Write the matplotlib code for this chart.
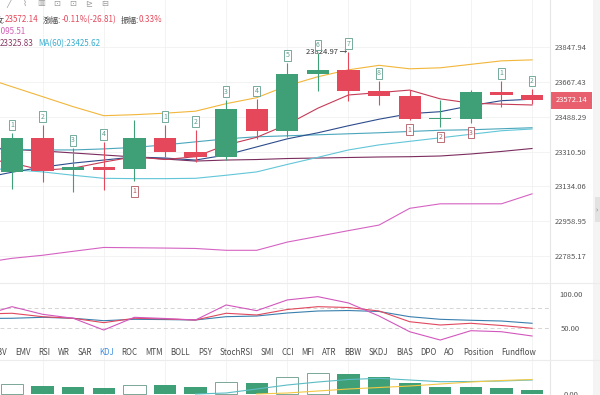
import matplotlib
matplotlib.use('Agg')
import matplotlib.pyplot as plt
import matplotlib.ticker as mticker
import matplotlib.transforms as mtrans
from matplotlib.patches import Rectangle
import numpy as np

plt.rcParams['font.family'] = ['Noto Sans CJK SC', 'DejaVu Sans']

W, H = 600, 395

# ---- candles (18 visible bars) ----
opens  = [23206.6, 23381.9, 23215.4, 23229.3, 23219.0, 23378.8, 23309.7, 23283.9, 23529.9,
          23412.9, 23708.7, 23727.3, 23622.6, 23593.3, 23476.8, 23476.8, 23615.9, 23598.95]
highs  = [23404.6, 23447.4, 23327.2, 23358.2, 23473.2, 23447.4, 23421.6, 23576.2, 23579.8,
          23765.4, 23818.6, 23824.97, 23670.6, 23627.8, 23576.2, 23627.8, 23670.6, 23631.0]
lows   = [23122.4, 23155.1, 23105.2, 23113.8, 23158.7, 23283.9, 23258.2, 23266.9, 23373.7,
          23387.1, 23619.0, 23567.5, 23546.9, 23473.2, 23435.5, 23458.0, 23536.6, 23553.0]
closes = [23381.9, 23211.8, 23229.3, 23217.0, 23378.8, 23309.7, 23283.9, 23529.9, 23412.9,
          23708.7, 23727.3, 23622.6, 23593.3, 23476.8, 23481.9, 23615.9, 23598.95, 23572.14]

# ---- price-panel lines (first value = bar before the first visible candle) ----
line_orange = [23694.9, 23643.3, 23591.8, 23540.2, 23493.8, 23499.0, 23506.7, 23517.0, 23555.7, 23586.6,
               23648.5, 23694.9, 23730.9, 23754.1, 23736.1, 23741.2, 23759.3, 23777.3, 23782.5]
ma5   = [23277.3, 23251.5, 23215.4, 23225.7, 23256.7, 23284.0, 23269.6, 23284.0, 23343.8, 23383.0,
         23449.0, 23532.5, 23600.5, 23612.9, 23625.8, 23580.4, 23558.2, 23553.1, 23548.9]
ma10  = [23174.2, 23205.1, 23230.9, 23251.5, 23267.0, 23282.5, 23277.3, 23267.0, 23292.8, 23334.0,
         23375.2, 23406.2, 23442.3, 23475.8, 23504.1, 23514.4, 23545.3, 23571.1, 23578.8]
ma20  = [23323.7, 23322.2, 23318.5, 23318.5, 23323.7, 23331.4, 23344.3, 23359.8, 23375.2, 23385.6,
         23390.7, 23395.9, 23401.0, 23406.2, 23412.9, 23419.1, 23421.6, 23426.8, 23432.0]
ma60  = [23225.7, 23218.0, 23206.7, 23189.7, 23174.2, 23172.6, 23172.6, 23174.2, 23189.7, 23206.7,
         23244.8, 23280.9, 23318.5, 23344.3, 23362.4, 23380.4, 23398.5, 23416.5, 23425.62]
ma30  = [23334.0, 23321.1, 23313.4, 23303.1, 23292.8, 23282.5, 23272.1, 23261.8, 23267.0, 23269.6,
         23274.7, 23277.3, 23279.9, 23282.5, 23284.0, 23287.6, 23297.9, 23310.8, 23325.83]
ma120 = [22748.8, 22772.1, 22787.3, 22807.1, 22826.3, 22824.8, 22823.3, 22821.2, 22812.1, 22812.1,
         22853.2, 22881.6, 22910.5, 22938.4, 23022.5, 23045.3, 23045.3, 23045.3, 23095.51]

price_ticks = [23847.94, 23667.43, 23488.29, 23310.50, 23134.06, 22958.95, 22785.17]
last_price = 23572.14

# sequence counters
td_up_idx = [0, 1, 2, 3, 5, 6, 7, 8, 9, 10, 11, 12, 16, 17]
td_up_num = ['1', '2', '3', '4', '1', '2', '3', '4', '5', '6', '7', '8', '1', '2']
td_dn_idx = [4, 13, 14, 15]
td_dn_num = ['1', '1', '2', '3']

# ---- KDJ ----
kdj_k = [70.8, 71.9, 66.9, 64.6, 58.2, 64.6, 63.6, 62.1, 71.9, 69.4,
         77.4, 81.5, 80.3, 75.2, 59.6, 54.8, 57.3, 54.1, 50.0]
kdj_d = [64.3, 64.6, 66.0, 64.6, 61.1, 63.1, 62.7, 62.1, 66.9, 67.9,
         72.3, 75.2, 75.9, 74.5, 66.9, 63.1, 61.7, 60.6, 57.3]
kdj_j = [67.9, 81.5, 70.4, 64.6, 47.5, 66.0, 64.3, 62.1, 84.0, 75.7,
         91.3, 96.1, 86.9, 67.9, 45.0, 32.9, 46.5, 45.0, 38.8]

tabs = ['OBV', 'EMV', 'RSI', 'WR', 'SAR', 'KDJ', 'ROC', 'MTM', 'BOLL', 'PSY', 'StochRSI',
        'SMI', 'CCI', 'MFI', 'ATR', 'BBW', 'SKDJ', 'BIAS', 'DPO', 'AO', 'Position', 'Fundflow']

# ---- volume ----
volume = [97, 80, 67, 63, 87, 90, 73, 123, 113, 173, 213, 197, 167, 107, 67, 67, 63, 40]
vol_hollow = [1, 0, 0, 0, 1, 0, 0, 1, 0, 1, 1, 0, 0, 0, 0, 0, 0, 0]
vol_ma_a = [np.nan] * 6 + [0, 10, 50, 90, 120, 145, 157, 140, 123, 125, 130, 140]
vol_ma_b = [np.nan] * 8 + [0, 10, 30, 50, 65, 80, 100, 120, 135, 145]

GREEN = '#3fa077'
RED = '#e5485b'
GRID = '#f1f1f1'
LABEL = '#555555'

fig = plt.figure(figsize=(W / 100, H / 100), dpi=100)
fig.patch.set_facecolor('white')


def fbox(x0, y0, x1, y1):
    # pixel box (top-left origin) -> figure fraction rect
    return [x0 / W, 1 - y1 / H, (x1 - x0) / W, (y1 - y0) / H]


ax = fig.add_axes(fbox(0, 0, 550, 283))
ax2 = fig.add_axes(fbox(0, 283, 550, 360))
ax3 = fig.add_axes(fbox(0, 360, 550, 395))

idx = np.arange(len(closes))
xl = np.arange(-1, len(closes))
xlim = (-0.392, 17.587)

for a in (ax, ax2, ax3):
    a.set_xlim(*xlim)
    for s in a.spines.values():
        s.set_visible(False)
    a.set_xticks([])
    a.set_facecolor('none')
    for gx in idx[1::2]:
        a.axvline(gx, color=GRID, lw=0.6, zorder=0)
    a.tick_params(axis='y', left=False, labelleft=False, right=True, labelright=True,
                  length=0, pad=15, labelsize=5.5, labelcolor=LABEL)

# ---- price panel ----
ax.set_yscale('log')
ax.set_ylim(22649.5, 24096.0)
ax.yaxis.set_major_locator(mticker.FixedLocator(price_ticks))
ax.yaxis.set_minor_locator(mticker.NullLocator())
ax.yaxis.set_major_formatter(mticker.FuncFormatter(lambda v, p: f'{v:.2f}'))
for t in ax.get_yticklabels():
    t.set_horizontalalignment('center')
for p in price_ticks:
    ax.axhline(p, color=GRID, lw=0.6, zorder=0)

ax.plot(xl, line_orange, color='#f2b63a', lw=0.8, zorder=2)
ax.plot(xl, ma120, color='#d563c3', lw=0.8, zorder=2)
ax.plot(xl, ma30, color='#7b2d5e', lw=0.8, zorder=2)
ax.plot(xl, ma60, color='#62c6d8', lw=0.8, zorder=2)
ax.plot(xl, ma20, color='#4aa6bc', lw=0.8, zorder=2)
ax.plot(xl, ma10, color='#2d4c8c', lw=0.8, zorder=2)
ax.plot(xl, ma5, color='#c63b56', lw=0.8, zorder=2)

for i in idx:
    col = GREEN if closes[i] >= opens[i] else RED
    ax.vlines(i, lows[i], highs[i], color=col, lw=0.8, zorder=3)
    lo, hi = min(opens[i], closes[i]), max(opens[i], closes[i])
    ax.bar(i, max(hi - lo, 4), bottom=lo, width=0.73, color=col, zorder=4)

UPC = '#5e9e8e'
DNC = '#b0575e'
for i, n in zip(td_up_idx, td_up_num):
    ax.annotate(n, xy=(i, highs[i]), xytext=(0, 8), textcoords='offset pixels',
                ha='center', va='center', fontsize=5, color=UPC, zorder=6,
                bbox=dict(boxstyle='square,pad=0.2', fc='white', ec=UPC, lw=0.6))
for i, n in zip(td_dn_idx, td_dn_num):
    ax.annotate(n, xy=(i, lows[i]), xytext=(0, -10), textcoords='offset pixels',
                ha='center', va='center', fontsize=5, color=DNC, zorder=6,
                bbox=dict(boxstyle='square,pad=0.2', fc='white', ec=DNC, lw=0.6))

imax = int(np.argmax(highs))
ax.annotate(f'{highs[imax]:.2f} →', xy=(imax, highs[imax]), xytext=(-1, 0),
            textcoords='offset pixels', ha='right', va='center', fontsize=5.5,
            color='#333333', zorder=5)

tr = mtrans.blended_transform_factory(ax.transAxes, ax.transData)
ax.text(1 + 21.5 / 550, last_price, f'{last_price:.2f}', transform=tr, ha='center',
        va='center', fontsize=5.5, color='white', clip_on=False, zorder=7,
        bbox=dict(boxstyle='square,pad=0.55', fc='#e8606e', ec='none'))

# ---- KDJ panel ----
ax2.set_ylim(3.8, 116.0)
ax2.set_yticks([100, 50])
ax2.yaxis.set_major_formatter(mticker.FuncFormatter(lambda v, p: f'{v:.2f}'))
for t in ax2.get_yticklabels():
    t.set_horizontalalignment('center')
ax2.axhline(80, color='#d4d4d4', lw=0.7, ls=(0, (4, 3)), zorder=1)
ax2.axhline(50, color='#d4d4d4', lw=0.7, ls=(0, (4, 3)), zorder=1)
ax2.plot(xl, kdj_d, color='#3a7fae', lw=0.8)
ax2.plot(xl, kdj_k, color='#e0485e', lw=0.8)
ax2.plot(xl, kdj_j, color='#d257bd', lw=0.8)

# ---- volume panel ----
ax3.set_ylim(-10, 340)
ax3.set_yticks([0])
ax3.yaxis.set_major_formatter(mticker.FuncFormatter(lambda v, p: f'{v:.2f}'))
for t in ax3.get_yticklabels():
    t.set_horizontalalignment('center')
for i in idx:
    if vol_hollow[i]:
        ax3.bar(i, volume[i], width=0.73, facecolor='white', edgecolor='#7aa797', lw=0.7, zorder=2)
    else:
        ax3.bar(i, volume[i], width=0.73, color=GREEN, zorder=2)
ax3.plot(idx, vol_ma_a, color='#5cbcc4', lw=0.8, zorder=3)
ax3.plot(idx, vol_ma_b, color='#f3c845', lw=0.8, zorder=3)

# ---- frame lines, scroll strip ----
fig.add_artist(plt.Line2D([550 / W, 550 / W], [0, 1], color='#e6e6e6', lw=0.8))
for yy in (283, 360):
    fig.add_artist(plt.Line2D([0, 1], [1 - yy / H] * 2, color='#ececec', lw=0.8))
fig.add_artist(Rectangle((593 / W, 0), 7 / W, 1, transform=fig.transFigure,
                         fc='#f4f4f4', ec='none'))
fig.add_artist(Rectangle((595 / W, 1 - 222 / H), 5 / W, 25 / H, transform=fig.transFigure,
                         fc='#e2e2e2', ec='none'))
fig.text(597 / W, 1 - 210 / H, '›', fontsize=5, color='#777777', ha='center', va='center')

renderer = fig.canvas.get_renderer()


def row(items, x0, y, size):
    x = x0
    for s, col, gap in items:
        t = fig.text(x / W, 1 - y / H, s, color=col, fontsize=size, ha='left', va='center')
        x += t.get_window_extent(renderer).width + gap


# tool icons at the very top (cut off)
for k, g in enumerate(['╱', '⌇', '▥', '⊡', '⊡', '⊵', '⊟']):
    fig.text((9 + k * 16) / W, 1 - 3 / H, g, fontsize=6, color='#9a9a9a',
             ha='center', va='center', family='DejaVu Sans')

# header text
DARK = '#444444'
fig.text(4.5 / W, 1 - 20 / H, '收:', fontsize=5.8, color=DARK, ha='right', va='center')
row([('23572.14', RED, 5), ('涨幅:', DARK, 0), ('-0.11%(-26.81)', RED, 4),
     ('振幅:', DARK, 0), ('0.33%', RED, 0)], 4.5, 20, 5.8)
fig.text(25 / W, 1 - 32 / H, 'MA(120):23095.51', fontsize=5.8, color='#d35fb5',
         ha='right', va='center')
row([('23325.83', '#8b3a66', 4), ('MA(60):23425.62', '#3aaed0', 0)], 0, 43.5, 5.8)

# indicator tabs
x = 7.5
for name in tabs:
    col = '#3d8fe0' if name == 'KDJ' else '#4a4a4a'
    t = fig.text(x / W, 1 - 352.7 / H, name, fontsize=5.7, color=col, ha='left', va='center')
    w = t.get_window_extent(renderer).width
    if name == 'OBV':
        t.set_x((x - w) / W)
        w = 0
    x += w + 7.6

fig.savefig('out.png', dpi=100)
